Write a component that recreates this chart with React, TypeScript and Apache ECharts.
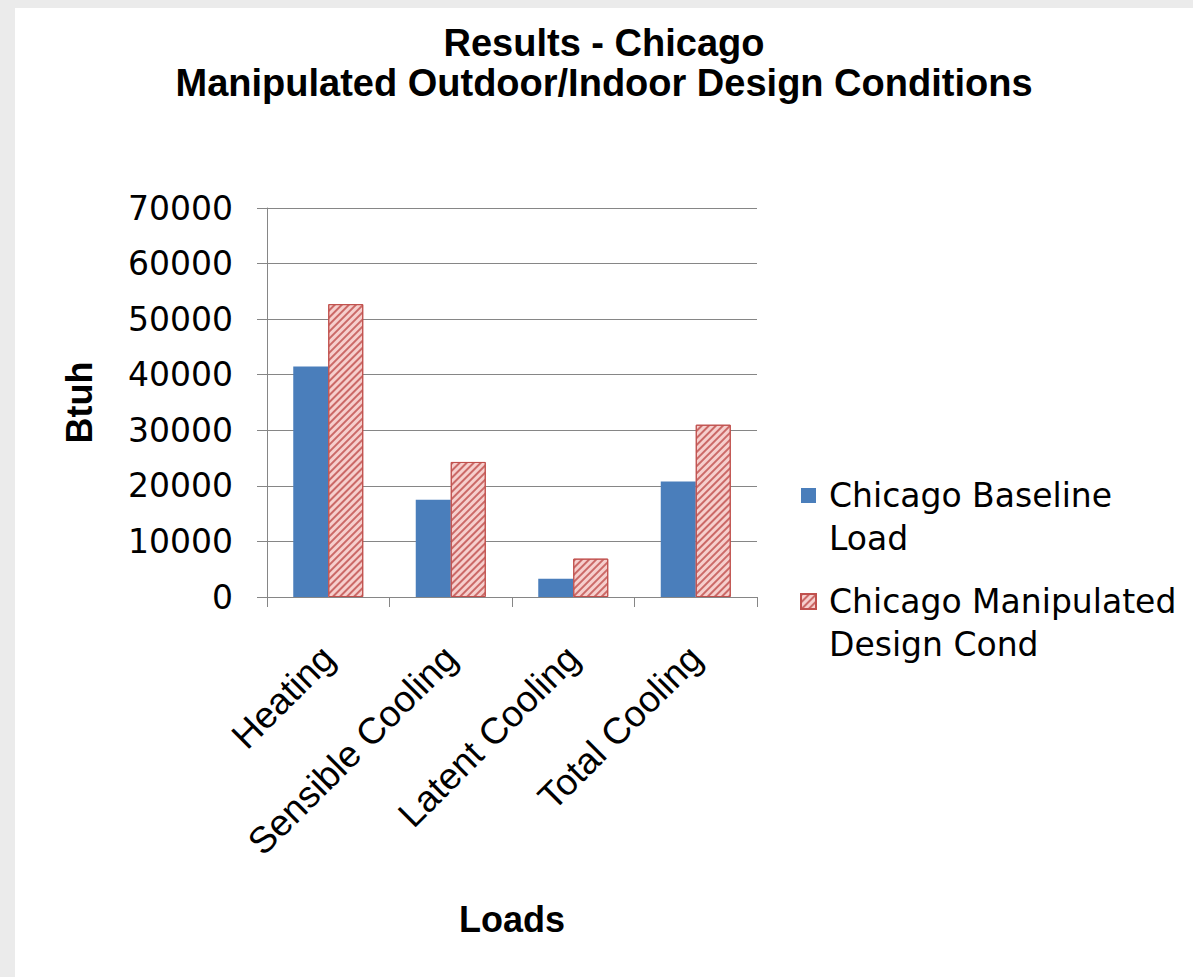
import React, { useEffect, useRef } from "react";
import * as echarts from "echarts";

const categories = ["Heating", "Sensible Cooling", "Latent Cooling", "Total Cooling"];
const baselineValues = [41500, 17500, 3300, 20800];
const manipulatedValues = [52700, 24300, 6900, 31000];
const seriesNames = ["Chicago Baseline\nLoad", "Chicago Manipulated\nDesign Cond"];
const yMin = 0;
const yMax = 70000;
const yInterval = 10000;

export default function App() {
  const ref = useRef<HTMLDivElement>(null);
  useEffect(() => {
    if (!ref.current) return;
    const chart = echarts.init(ref.current, null, { renderer: "svg" });
    const reg = "DejaVu Sans";
    const bold = "Liberation Sans";
    chart.setOption({
      animation: false,
      title: {
        text: "Results - Chicago\nManipulated Outdoor/Indoor Design Conditions",
        left: "center",
        top: 15,
        padding: [0, 0, 0, 6],
        textStyle: {
          fontFamily: bold,
          fontWeight: "bold",
          fontSize: 38,
          lineHeight: 40,
          color: "#000",
        },
      },
      legend: {
        orient: "vertical",
        left: 780,
        top: 418,
        itemWidth: 15,
        itemHeight: 15,
        itemGap: -23,
        icon: "rect",
        formatter: (name: string) => " \n" + name,
        textStyle: {
          fontFamily: reg,
          fontSize: 33,
          lineHeight: 43,
          color: "#000",
          padding: [0, 0, 0, 8],
        },
      },
      grid: { left: 252, top: 200, width: 490, height: 389 },
      xAxis: {
        type: "category",
        data: categories,
        name: "Loads",
        nameLocation: "middle",
        nameGap: 304,
        nameTextStyle: { fontFamily: bold, fontWeight: "bold", fontSize: 36, color: "#000" },
        axisLine: { lineStyle: { color: "#868686", width: 1 } },
        axisTick: { show: true, length: 10, lineStyle: { color: "#868686" } },
        axisLabel: {
          rotate: 45,
          margin: 55,
          interval: 0,
          fontFamily: bold,
          fontSize: 37,
          color: "#000",
        },
      },
      yAxis: {
        type: "value",
        min: yMin,
        max: yMax,
        interval: yInterval,
        name: "Btuh",
        nameLocation: "middle",
        nameRotate: 90,
        nameGap: 170,
        nameTextStyle: { fontFamily: bold, fontWeight: "bold", fontSize: 36, color: "#000" },
        axisLine: { show: true, lineStyle: { color: "#868686", width: 1 } },
        axisTick: { show: true, length: 10, lineStyle: { color: "#868686" } },
        axisLabel: {
          margin: 34,
          fontFamily: reg,
          fontSize: 33,
          color: "#000",
          formatter: (v: number) => String(v),
        },
        splitLine: { show: true, lineStyle: { color: "#868686", width: 1 } },
      },
      series: [
        {
          name: seriesNames[0],
          type: "bar",
          data: baselineValues,
          barGap: "0%",
          barCategoryGap: "42.86%",
          itemStyle: { color: "#4a7ebb" },
        },
        {
          name: seriesNames[1],
          type: "bar",
          data: manipulatedValues,
          barGap: "0%",
          barCategoryGap: "42.86%",
          itemStyle: {
            color: "#f6cfcd",
            borderColor: "#c0504d",
            borderWidth: 1,
            decal: {
              symbol: "rect",
              symbolSize: 1,
              color: "rgba(192,80,77,0.8)",
              dashArrayX: [1, 0],
              dashArrayY: [2, 3],
              rotation: -Math.PI / 4,
            },
          },
        },
      ],
    });
    return () => chart.dispose();
  }, []);

  return (
    <div
      style={{
        position: "absolute",
        left: 0,
        top: 0,
        width: 1193,
        height: 977,
        background: "#ebebeb",
      }}
    >
      <div
        ref={ref}
        style={{
          position: "absolute",
          left: 15,
          top: 8,
          width: 1178,
          height: 969,
          background: "#fff",
        }}
      />
    </div>
  );
}
